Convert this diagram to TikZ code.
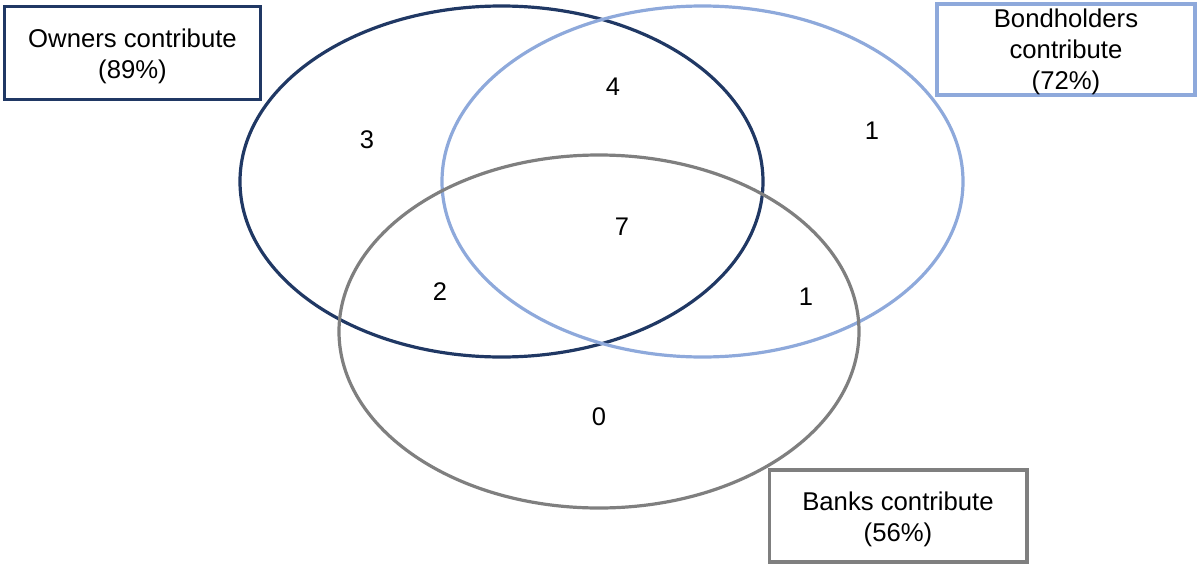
\documentclass[tikz,border=0pt]{standalone}
\usepackage{fontspec}
\setmainfont{Liberation Sans}
\definecolor{navy}{HTML}{203864}
\definecolor{lblue}{HTML}{8EA9DB}
\definecolor{mgray}{HTML}{7F7F7F}
\begin{document}
\begin{tikzpicture}[x=1pt,y=-1pt,
  ell/.style={line width=3.2pt},
  box/.style={line width=3.5pt,fill=white,inner sep=0pt},
  txt/.style={text=black,align=center,inner sep=0pt,
    font=\fontsize{25.7}{31}\selectfont},
  num/.style={font=\fontsize{25.5}{30}\selectfont,inner sep=0pt}]
\useasboundingbox (0,0) rectangle (1197,565);
\draw[ell,draw=navy] (501.5,181.5) ellipse [x radius=261.5, y radius=175.5];
\draw[ell,draw=lblue] (702.5,181.5) ellipse [x radius=260.5, y radius=175.5];
\draw[ell,draw=mgray] (599,331.5) ellipse [x radius=260, y radius=176.5];
\node[box,draw=navy,minimum width=256pt,minimum height=93pt] (own) at (132.5,53) {};
\node[txt] (ownt) at (132.5,56.5) {Owners contribute\\(89\%)};
\node[box,draw=lblue,minimum width=258pt,minimum height=91pt] (bond) at (1066,49.5) {};
\node[txt] (bondt) at (1066,52) {Bondholders\\contribute\\(72\%)};
\node[box,draw=mgray,minimum width=257.5pt,minimum height=92pt] (bank) at (898,516) {};
\node[txt] (bankt) at (898,519.5) {Banks contribute\\(56\%)};
\node[num] (n3) at (367,140) {3};
\node[num] (n4) at (613,87) {4};
\node[num] (n1a) at (872,131) {1};
\node[num] (n7) at (622,227) {7};
\node[num] (n2) at (440,292) {2};
\node[num] (n1b) at (806,297) {1};
\node[num] (n0) at (599,417) {0};
\end{tikzpicture}
\end{document}
